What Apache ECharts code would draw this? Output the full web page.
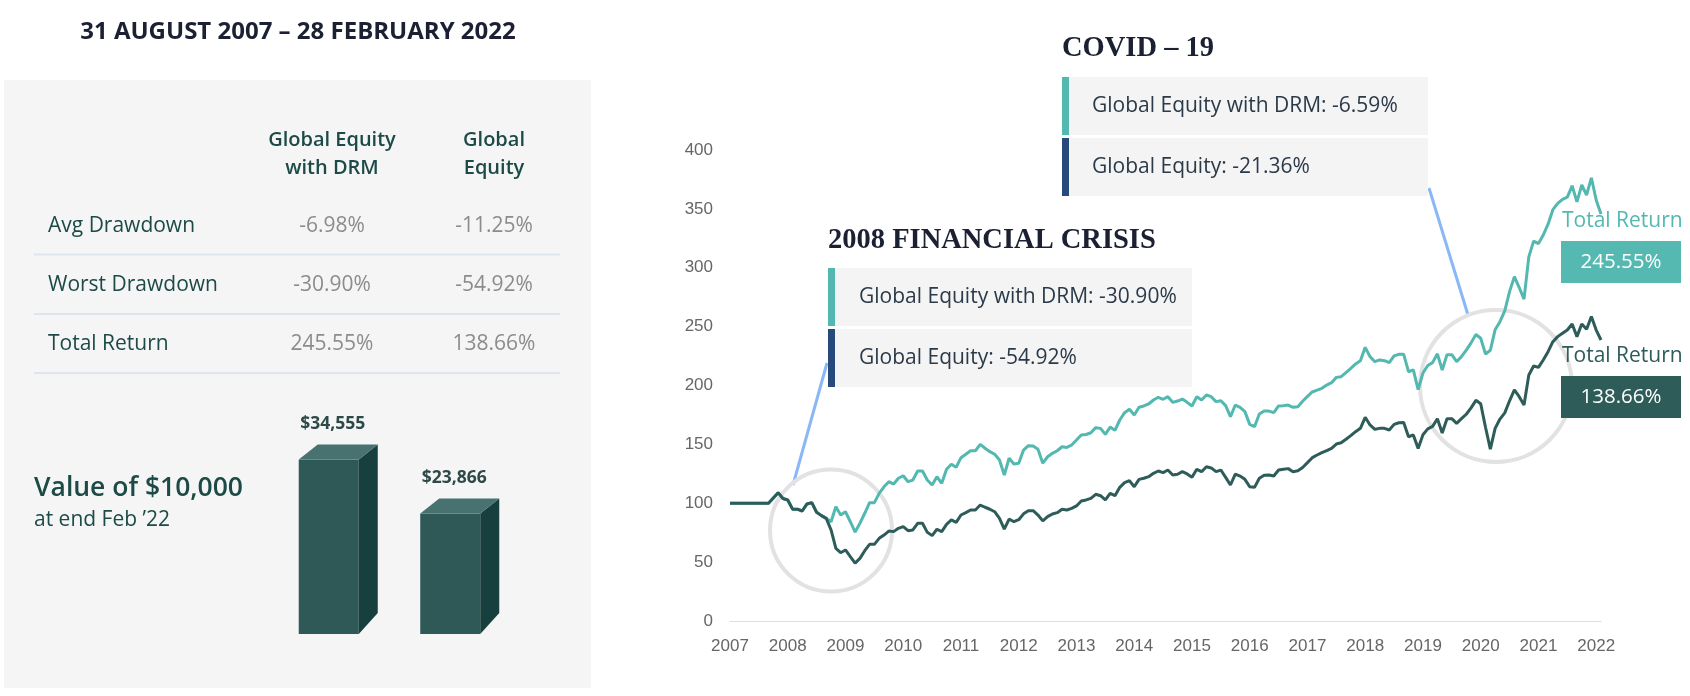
<!DOCTYPE html>
<html><head><meta charset="utf-8">
<script src="https://cdn.jsdelivr.net/npm/echarts@6/dist/echarts.min.js"></script>
<style>html,body{margin:0;padding:0;background:#fff}#c{width:1690px;height:696px}</style>
</head><body><div id="c"></div>
<script>
// ---------- DATA ----------
var yearLabels = ['2007','2008','2009','2010','2011','2012','2013','2014','2015','2016','2017','2018','2019','2020','2021','2022'];
var monthCount = 182; // Jan 2007 .. Feb 2022
var globalEquity = [
100,100,100,100,100,100,100,100,100,104.5,
109,104,102.8,95,95,93.4,99.4,100.5,92.3,89.5,
87.2,77.3,61.7,58,60.3,54.6,49.2,53.2,59.7,65.1,
65.1,70.2,73,76.4,75.9,78.7,80.1,76.7,77.3,83,
83,75.3,72.5,77.9,75.9,82.1,85.8,83.8,90,92,
94.3,94.3,98.5,96.6,94.9,92.8,87.2,78.1,86.6,84.3,
86,91,93.7,93.7,90,85,88.6,90.9,92,94.9,
94.3,95.7,97.7,101.9,102.8,104.2,107.6,106.4,102.8,108.4,
106.4,113.5,117.5,119.2,114,120.3,121.2,122.6,125.4,127.4,
126,128.2,124,124.6,126.8,124.9,122,128.8,126.8,131,
130,126.8,128.2,122,115.5,124.8,123.1,120.3,114,113.5,
121.2,123.7,124,123.1,128.2,128.8,129.4,126.8,127.6,130.4,
134.5,138.7,141,143,144.7,146.6,150.3,151.4,154.3,157.4,
160.8,163.6,173,166.5,162.8,163.6,163.6,162.2,167,168.4,
168.5,156.5,158,146.6,158.2,163.2,165.3,171.8,159.7,171.8,
171.8,167.9,171.8,175.6,181,187.4,184.5,164.5,146,163.6,
171.5,176.8,187,196.2,190.5,183.4,208.9,216.6,215.4,221.7,
228.7,237.2,241.5,244.3,247.1,252.2,241.5,252.2,247.7,258.5,
247.1,238.66
];
var globalEquityDRM = [
100,100,100,100,100,100,100,100,100,104.5,
109,104,102.8,95,95,93.4,99.4,100.5,92.3,89.5,
87.2,84.3,97,90,92.8,84.3,75.5,83,91.5,100.5,
100.5,108.4,114,118.3,116.3,121.2,123.4,118.3,119.7,127.4,
127.4,119.7,115.5,122.5,116.9,128.8,133.1,130.5,138.7,141.6,
144.6,144.6,150,146.7,143.8,141.6,136.7,124,138.2,133.3,
134,145.2,148.9,148.6,145.8,134,139.5,142.4,144.6,148,
147.4,149.5,153.7,158,158.4,159.9,164.2,163.6,158.5,164.8,
161.9,170.7,176.9,179.8,175,181.5,182.6,184.3,187.7,190,
188.3,190.5,185.7,186.8,188.5,185.7,182.6,190.5,187.7,191.9,
190.5,186.3,187.1,182.9,173.5,183.4,181.5,177.8,167,165,
175.8,178.3,178.3,176.9,182.6,182.9,183.4,181.5,182,186.6,
190.8,194.5,196,197.6,200.4,202.4,206.9,207.5,210.9,214.6,
218.3,221.1,232.4,224.5,220.2,221.7,221.1,219.4,225.1,226.5,
226.5,211.7,213.2,196.5,210.6,217,219.4,226.9,213.2,226.2,
226.2,220.2,224.5,230.1,236.2,243.3,240.1,226.7,229.9,247.4,
254.2,263.4,279.7,292.4,283.2,273.3,309.2,322.6,320.5,327.8,
337,349.3,354.7,358.1,360,369.6,356,370.3,361.8,376.4,
357.5,345.55
];
var yTicks = {min: 0, max: 400, interval: 50};

var barCategories = ['Global Equity with DRM', 'Global Equity'];
var barValues = [34555, 23866];
var barLabels = ['$34,555', '$23,866'];

var titleText = '31 AUGUST 2007 \u2013 28 FEBRUARY 2022';
var tableHeaders = [['Global Equity', 'with DRM'], ['Global', 'Equity']];
var rowLabels = ['Avg Drawdown', 'Worst Drawdown', 'Total Return'];
var drmStats = ['-6.98%', '-30.90%', '245.55%'];
var geStats = ['-11.25%', '-54.92%', '138.66%'];

var crisisTitles = ['2008 FINANCIAL CRISIS', 'COVID \u2013 19'];
var crisisDRM = ['Global Equity with DRM: -30.90%', 'Global Equity with DRM: -6.59%'];
var crisisGE = ['Global Equity: -54.92%', 'Global Equity: -21.36%'];
var totalReturnLabels = ['245.55%', '138.66%'];

// ---------- STYLE ----------
var TEAL = '#52b8b0', DARK = '#2d5c59', NAVY = '#274a7a';
var HEAD = '#1c4a47', GREY = '#8c8c8c', INK = '#1b2033', SLATE = '#2b3a48';
var OS = '"Open Sans", sans-serif';

var months = [];
yearLabels.forEach(function (y) { for (var m = 1; m <= 12; m++) months.push(y + '-' + (m < 10 ? '0' + m : m)); });
months = months.slice(0, monthCount);

function txt(t, x, y, font, fill, align, valign) {
  return {type: 'text', silent: true, style: {text: t, x: x, y: y, font: font, fill: fill,
    textAlign: align || 'left', textVerticalAlign: valign || 'middle'}};
}
function rect(x, y, w, h, fill) {
  return {type: 'rect', silent: true, shape: {x: x, y: y, width: w, height: h}, style: {fill: fill}};
}
function line(x1, y1, x2, y2, stroke, w) {
  return {type: 'line', silent: true, shape: {x1: x1, y1: y1, x2: x2, y2: y2}, style: {stroke: stroke, lineWidth: w}};
}
function circle(cx, cy, r) {
  return {type: 'circle', silent: true, shape: {cx: cx, cy: cy, r: r}, style: {fill: 'none', stroke: '#e2e2e2', lineWidth: 4}};
}

var g = [];
// left panel
g.push(rect(4, 80, 587, 608, '#f5f5f5'));
g.push(txt(titleText, 298, 32, 'bold 24px ' + OS, INK, 'center'));
var colX = [332, 494];
tableHeaders.forEach(function (h, i) {
  g.push(txt(h[0], colX[i], 140, '600 20px ' + OS, HEAD, 'center'));
  g.push(txt(h[1], colX[i], 168, '600 20px ' + OS, HEAD, 'center'));
});
var rowY = [226, 285.5, 344.5];
rowLabels.forEach(function (r, i) {
  g.push(txt(r, 48, rowY[i], '21px ' + OS, HEAD));
  g.push(txt(drmStats[i], colX[0], rowY[i], '21px ' + OS, GREY, 'center'));
  g.push(txt(geStats[i], colX[1], rowY[i], '21px ' + OS, GREY, 'center'));
  g.push(line(34, rowY[i] + 28.5, 560, rowY[i] + 28.5, '#dfe5ee', 2));
});
g.push(txt('Value of $10,000', 34, 488, '600 26.5px ' + OS, HEAD));
g.push(txt('at end Feb \u201922', 34, 520, '21px ' + OS, HEAD));

// crisis annotations
g.push(line(827, 363, 793, 485, '#8ab8f7', 3));
g.push(line(1429, 188, 1468, 315, '#8ab8f7', 3));
g.push(circle(831, 530.5, 61));
g.push(circle(1496, 386, 76));
g.push(txt(crisisTitles[0], 828, 241, 'bold 28.5px "Liberation Serif", serif', INK));
g.push(rect(828, 268, 364, 58, '#f4f4f4'));
g.push(rect(828, 268, 7, 58, TEAL));
g.push(rect(828, 329, 364, 58, '#f4f4f4'));
g.push(rect(828, 329, 7, 58, NAVY));
g.push(txt(crisisDRM[0], 859, 297, '21px ' + OS, SLATE));
g.push(txt(crisisGE[0], 859, 358, '21px ' + OS, SLATE));
g.push(txt(crisisTitles[1], 1062, 49, 'bold 28.5px "Liberation Serif", serif', INK));
g.push(rect(1062, 77, 366, 58, '#f4f4f4'));
g.push(rect(1062, 77, 7, 58, TEAL));
g.push(rect(1062, 138, 366, 58, '#f4f4f4'));
g.push(rect(1062, 138, 7, 58, NAVY));
g.push(txt(crisisDRM[1], 1092, 106.5, '21px ' + OS, SLATE));
g.push(txt(crisisGE[1], 1092, 167, '21px ' + OS, SLATE));

// total return labels
g.push(txt('Total Return', 1562, 221, '21px ' + OS, TEAL));
g.push(rect(1561, 241, 120, 42, '#55b9b1'));
g.push(txt(totalReturnLabels[0], 1621, 262, '20.5px ' + OS, '#ffffff', 'center'));
g.push(txt('Total Return', 1562, 356, '21px ' + OS, DARK));
g.push(rect(1561, 376, 120, 42, DARK));
g.push(txt(totalReturnLabels[1], 1621, 397, '20.5px ' + OS, '#ffffff', 'center'));

function render3D(params, api) {
  var idx = api.value(0);
  var top = api.coord([idx, api.value(1)]);
  var base = api.coord([idx, 0]);
  var bw = api.size([1, 0])[0] * 0.494;
  var x0 = top[0] - bw / 2, x1 = top[0] + bw / 2;
  var dx = 19, dyT = -15, dyB = -21;
  return {type: 'group', children: [
    {type: 'polygon', shape: {points: [[x0, top[1]], [x1, top[1]], [x1, base[1]], [x0, base[1]]]}, style: {fill: '#2e5957'}},
    {type: 'polygon', shape: {points: [[x1, top[1]], [x1 + dx, top[1] + dyT], [x1 + dx, base[1] + dyB], [x1, base[1]]]}, style: {fill: '#173f3d'}},
    {type: 'polygon', shape: {points: [[x0, top[1]], [x0 + dx, top[1] + dyT], [x1 + dx, top[1] + dyT], [x1, top[1]]]}, style: {fill: '#477270'}},
    {type: 'text', style: {text: barLabels[params.dataIndex], x: x0 + 34, y: top[1] + dyT - 20,
      textAlign: 'center', textVerticalAlign: 'middle', font: 'bold 17.5px ' + OS, fill: '#2e4a48'}}
  ]};
}

var chart = echarts.init(document.getElementById('c'), null, {renderer: 'canvas'});
chart.setOption({
  animation: false,
  backgroundColor: '#ffffff',
  grid: [
    {left: 730, right: 89, top: 150, bottom: 75},
    {left: 268, right: 1179, top: 432, bottom: 62}
  ],
  xAxis: [
    {type: 'category', gridIndex: 0, data: months, boundaryGap: false,
      axisLine: {lineStyle: {color: '#dddddd', width: 1}}, axisTick: {show: false},
      axisLabel: {interval: 11, margin: 17, color: '#666666', fontSize: 17, fontFamily: '"Liberation Sans", Arial, sans-serif',
        formatter: function (v) { return v.slice(0, 4); }}},
    {type: 'category', gridIndex: 1, data: barCategories, show: false}
  ],
  yAxis: [
    {type: 'value', gridIndex: 0, min: yTicks.min, max: yTicks.max, interval: yTicks.interval,
      axisLine: {show: false}, axisTick: {show: false}, splitLine: {show: false},
      axisLabel: {margin: 17, color: '#666666', fontSize: 17, fontFamily: '"Liberation Sans", Arial, sans-serif'}},
    {type: 'value', gridIndex: 1, min: 0, max: 40000, show: false}
  ],
  series: [
    {name: 'Global Equity with DRM', type: 'line', xAxisIndex: 0, yAxisIndex: 0, data: globalEquityDRM,
      showSymbol: false, lineStyle: {color: TEAL, width: 3}, z: 3},
    {name: 'Global Equity', type: 'line', xAxisIndex: 0, yAxisIndex: 0, data: globalEquity,
      showSymbol: false, lineStyle: {color: DARK, width: 3}, z: 4},
    {name: 'Value of $10,000', type: 'custom', xAxisIndex: 1, yAxisIndex: 1,
      data: barValues.map(function (v, i) { return [i, v]; }), renderItem: render3D, z: 5}
  ],
  graphic: {elements: g}
});
</script></body></html>
